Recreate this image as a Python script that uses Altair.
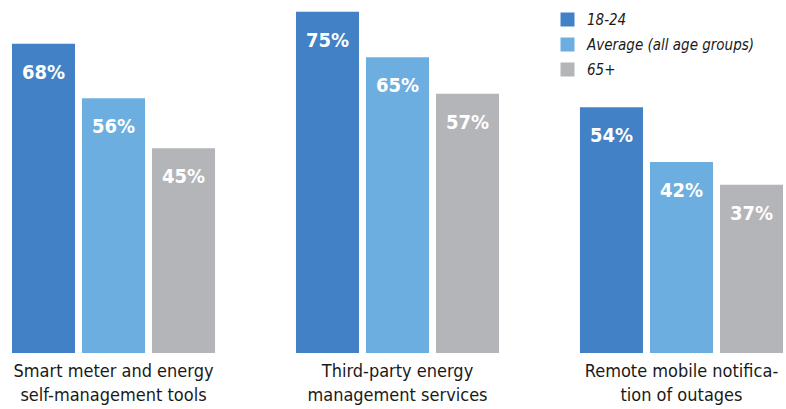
import altair as alt
import pandas as pd

categories = ["Smart meter and energy\nself-management tools",
              "Third-party energy\nmanagement services",
              "Remote mobile notifica-\ntion of outages"]
series = ["18-24", "Average (all age groups)", "65+"]
values_1824 = [68, 75, 54]
values_avg = [56, 65, 42]
values_65 = [45, 57, 37]
colors = ["#4281C5", "#6CAEE0", "#B4B5B8"]

rows = []
for i, c in enumerate(categories):
    for s, vals in zip(series, [values_1824, values_avg, values_65]):
        rows.append({"category": c, "series": s, "value": vals[i],
                     "label": f"{vals[i]}%"})
df = pd.DataFrame(rows)

FONT = "DejaVu Sans Condensed, Liberation Sans Narrow, sans-serif"

x = alt.X("category:N", sort=categories, title=None,
          scale=alt.Scale(paddingInner=0.285, paddingOuter=0.0264, align=0.8),
          axis=alt.Axis(labelAngle=0, domain=False, ticks=False,
                        labelExpr="split(datum.label, '\\n')",
                        labelFont=FONT, labelFontSize=18, labelColor="#1a1a1a",
                        labelLineHeight=24, labelPadding=9, labelBaseline="top",
                        labelLimit=400))
xo = alt.XOffset("series:N", sort=series,
                 scale=alt.Scale(paddingInner=0.1, paddingOuter=0))
y = alt.Y("value:Q", scale=alt.Scale(domain=[0, 77.6]), axis=None)

bars = alt.Chart(df).mark_bar().encode(
    x=x, xOffset=xo, y=y,
    color=alt.Color("series:N", sort=series,
                    scale=alt.Scale(domain=series, range=colors),
                    legend=alt.Legend(title=None, orient="none", legendX=560, legendY=12,
                                      symbolType="square", symbolSize=196,
                                      symbolStrokeWidth=0, symbolOpacity=1,
                                      labelFont=FONT, labelFontSize=15,
                                      labelFontStyle="italic", labelColor="#1a1a1a",
                                      rowPadding=9, labelOffset=12, labelLimit=400))
)

texts = alt.Chart(df).mark_text(font=FONT, fontSize=20, fontWeight="bold",
                                color="white", baseline="alphabetic", dy=35).encode(
    x=x, xOffset=xo, y=y, text="label:N")

chart = alt.layer(bars, texts).properties(
    width=786, height=353,
    padding={"left": 0, "top": 0, "right": 0, "bottom": 56},
    autosize=alt.AutoSizeParams(type="none"),
).configure_view(stroke=None)

chart.save("out.html", embed_options={"renderer": "svg", "actions": False})
